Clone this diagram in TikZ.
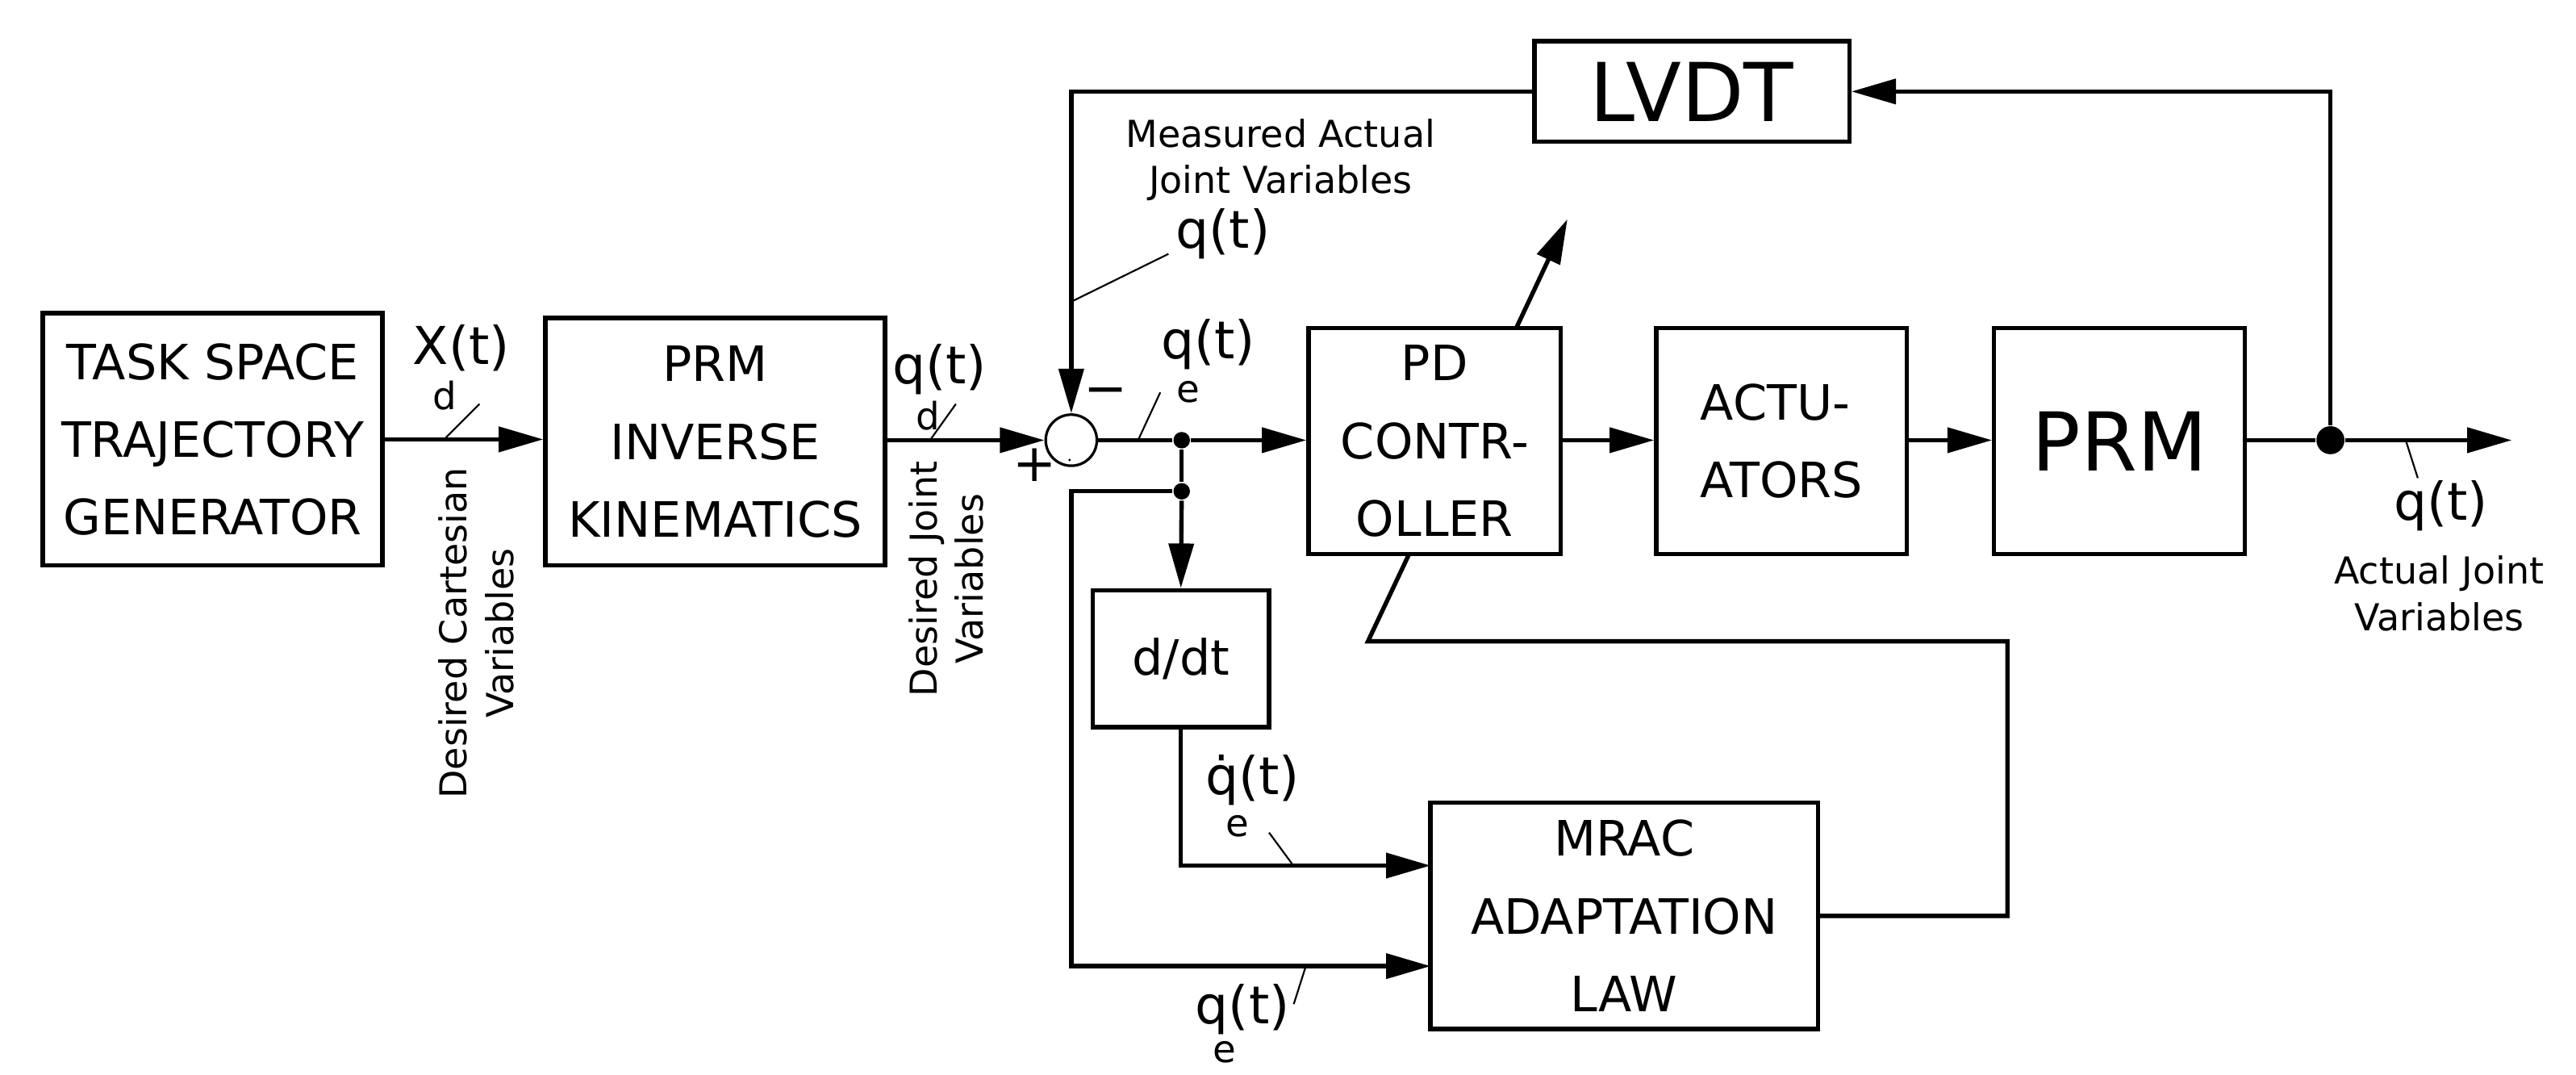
\documentclass[tikz,border=0pt]{standalone}
\usepackage{fontspec}
\setmainfont{DejaVu Sans}
\usetikzlibrary{arrows.meta}
\begin{document}
\begin{tikzpicture}[x=0.01cm,y=-0.01cm,
  box/.style={draw,line width=0.75pt,inner sep=0pt,align=center,font=\fontsize{8.4}{13.4}\selectfont},
  big/.style={font=\fontsize{14}{16}\selectfont},
  ln/.style={line width=0.75pt},
  arr/.style={ln,-{Triangle[length=0.27cm,width=0.15cm]}},
  tick/.style={line width=0.3pt},
  sig/.style={inner sep=0pt,font=\fontsize{9}{10}\selectfont},
  sub/.style={inner sep=0pt,font=\fontsize{6.5}{7}\selectfont},
  lab/.style={inner sep=0pt,align=center,font=\fontsize{6.4}{8}\selectfont},
  dot/.style={circle,fill,inner sep=0pt,minimum size=0.1cm}]
\useasboundingbox (0,0) rectangle (1563,652);
% blocks
\node[box,minimum width=2.06cm,minimum height=1.53cm] (task) at (129,266.5) {TASK SPACE\\TRAJECTORY\\GENERATOR};
\node[box,minimum width=2.06cm,minimum height=1.50cm] (ik) at (434,268) {PRM\\INVERSE\\KINEMATICS};
\node[circle,draw,line width=0.45pt,minimum size=0.31cm,inner sep=0pt] (sum) at (650,267) {};
\fill (649,279) circle (0.8);
\node[box,minimum width=1.53cm,minimum height=1.37cm] (pd) at (870.5,267.5) {PD\\CONTR-\\OLLER};
\node[box,minimum width=1.52cm,minimum height=1.37cm,align=left] (act) at (1081,267.5) {ACTU-\\ATORS};
\node[box,big,minimum width=1.52cm,minimum height=1.37cm] (prm) at (1286,267.5) {PRM};
\node[box,big,minimum width=1.91cm,minimum height=0.61cm] (lvdt) at (1026.5,55.5) {LVDT};
\node[box,minimum width=1.07cm,minimum height=0.83cm] (ddt) at (716.5,399.5) {d/dt};
\node[box,minimum width=2.35cm,minimum height=1.37cm] (mrac) at (985.5,555.5) {MRAC\\ADAPTATION\\LAW};
% junctions
\node[dot] (d1) at (717,267) {};
\node[dot] (d2) at (717,298) {};
\node[dot,minimum size=0.17cm] (d3) at (1414,267) {};
\coordinate (out) at (1524,267);
\coordinate (m1) at (868,525);
\coordinate (m2) at (868,586);
\coordinate (fb) at (650,586);
\coordinate (a1) at (1218,389);
\coordinate (a2) at (830,389);
\coordinate (a3) at (855,336);
\coordinate (p1) at (920,199);
\coordinate (p2) at (951,133);
% connectors
\draw[arr] (task) -- (ik.west |- task);
\draw[arr] (ik.east |- sum) -- (sum.west);
\draw[ln] (sum.east) -- (d1);
\draw[arr] (d1) -- (pd.west |- d1);
\draw[arr] (pd.east |- d1) -- (act.west |- d1);
\draw[arr] (act.east |- d1) -- (prm.west |- d1);
\draw[ln] (prm.east |- d1) -- (d3);
\draw[arr] (d3) -- (out);
\draw[arr] (d3) |- (lvdt.east);
\draw[arr] (lvdt.west) -| (sum.north);
\draw[ln] (d1) -- (d2);
\draw[arr] (d2) -- (ddt.north);
\draw[arr] (ddt.south) |- (m1);
\draw[arr] (d2) -| (fb) -- (m2);
\draw[ln] (mrac.east) -| (a1) -- (a2) -- (a3);
\draw[arr] (p1) -- (p2);
% signal labels
\node[sig] at (280,211) {X(t)};
\node[sub] at (270,240) {d};
\draw[tick] (291,245) -- (270,266);
\node[sig] at (570,224) {q(t)};
\node[sub] at (563,252) {d};
\draw[tick] (580,245) -- (565,266);
\node[sig] at (733,209) {q(t)};
\node[sub] at (721,238) {e};
\draw[tick] (704,238) -- (691,266);
\node[sig] at (742,142) {q(t)};
\draw[tick] (709,154) -- (650,183);
\node[sig] at (760,473) {\.{q}(t)};
\node[sub] at (751,501) {e};
\draw[tick] (770,505) -- (784,524);
\node[sig] at (754,612) {q(t)};
\node[sub] at (743,638) {e};
\draw[tick] (792,587) -- (785,609);
\node[sig] at (1481,307) {q(t)};
\draw[tick] (1460,268) -- (1467,290);
\node[sig] at (628,282) {+};
\node[sig] at (671,241) {\textminus};
% text labels
\node[lab] at (777,97) {Measured Actual\\Joint Variables};
\node[lab] at (1480,360) {Actual Joint\\Variables};
\node[lab,rotate=90] at (289,384) {Desired Cartesian\\Variables};
\node[lab,rotate=90] at (574,351) {Desired Joint\\Variables};
\end{tikzpicture}
\end{document}
